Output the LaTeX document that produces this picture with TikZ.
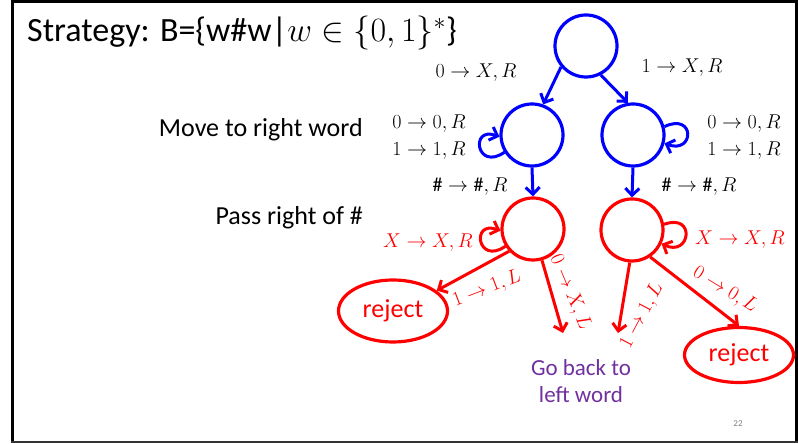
\documentclass[tikz,border=0pt]{standalone}
\usepackage{fix-cm}
\usepackage{fontspec}
\setmainfont{Carlito}
\usetikzlibrary{arrows.meta,shapes.geometric}
\definecolor{purp}{RGB}{112,48,160}
\begin{document}
\begin{tikzpicture}[x=1pt,y=1pt,
  st/.style={circle,draw,line width=3.2pt,minimum size=62pt,inner sep=0pt},
  bst/.style={st,draw=blue},
  rst/.style={st,draw=red},
  rej/.style={ellipse,draw=red,line width=3.2pt,text=red,font=\fontsize{26}{28}\selectfont,inner sep=0pt},
  arr/.style={line width=3pt,-{Straight Barb[length=7pt,width=14pt]}},
  lab/.style={font=\fontsize{20}{27}\selectfont,inner sep=0pt},
  txt/.style={font=\fontsize{26}{28}\selectfont,inner sep=0pt,anchor=east}
]
\useasboundingbox (0,0) rectangle (798,444);
\draw[line width=3pt] (12.5,2) -- (12.5,442.5) -- (796.5,442.5) -- (796.5,2);
\draw[line width=1.5pt,black!80] (11,2) -- (798,2);

\node[bst] (q0) at (586,398) {};
\node[bst] (b1) at (532,309) {};
\node[bst] (b2) at (633,309) {};
\node[rst] (r1) at (533,215) {};
\node[rst] (r2) at (632,214) {};
\node[rej,minimum width=109pt,minimum height=62pt] (j1) at (393,133) {reject};
\node[rej,minimum width=109pt,minimum height=55pt] (j2) at (739,89) {reject};
\coordinate (e1) at (563,111);
\coordinate (e2) at (618,111);

\draw[arr,blue] (q0.220) -- (b1.70);
\draw[arr,blue] (q0.297) -- (b2.99);
\draw[arr,blue] (b1.south) -- (r1.north);
\draw[arr,blue] (b2.south) -- (r2.north);

\draw[arr,blue] (b1.212) .. controls +(215:34) and +(160:32) .. (b1.183);
\draw[arr,blue] (b2.15) .. controls +(25:34) and +(-20:32) .. (b2.345);
\draw[arr,red] (r1.212) .. controls +(215:34) and +(160:32) .. (r1.183);
\draw[arr,red] (r2.10) .. controls +(20:34) and +(-25:32) .. (r2.335);

\draw[arr,red] (r1.223) -- (j1.25);
\draw[arr,red] (r1.286) -- (e1);
\draw[arr,red] (r2.266) -- (e2);
\draw[arr,red] (r2.304) -- (j2.north);

\node[lab] (l1) at (476,371) {$0\to X,R$};
\node[lab] (l2) at (682,376) {$1\to X,R$};
\node[lab,align=right] (l3) at (429,306.5) {$0\to 0,R$\\$1\to 1,R$};
\node[lab,align=left] (l4) at (744,306.5) {$0\to 0,R$\\$1\to 1,R$};
\node[lab] (l5) at (470,257) {$\#\to\#,R$};
\node[lab] (l6) at (699,257) {$\#\to\#,R$};
\node[lab,red] (l7) at (428,201) {$X\to X,R$};
\node[lab,red] (l8) at (740,204) {$X\to X,R$};
\node[lab,red,rotate=21] (l9) at (487,155) {$1\to 1,L$};
\node[lab,red,rotate=-67] (l10) at (570,152) {$0\to X,L$};
\node[lab,red,rotate=62] (l11) at (642,128) {$1\to 1,L$};
\node[lab,red,rotate=-31.5] (l12) at (725,154) {$0\to 0,L$};

\node[txt] (m1) at (363,314) {Move to right word};
\node[txt] (m2) at (363,226) {Pass right of \#};
\node[font=\fontsize{23}{27}\selectfont,inner sep=0pt,text=purp,align=center] (g) at (581,63) {Go back to\\left word};
\node[font=\fontsize{34}{36}\selectfont,anchor=west,inner sep=0pt] (t) at (27,411) {Strategy: B=\{w\#w|$w\in\{0,1\}^*$\}};
\node[font=\fontsize{9}{10}\selectfont,text=gray] (pg) at (738,20) {22};
\end{tikzpicture}
\end{document}
